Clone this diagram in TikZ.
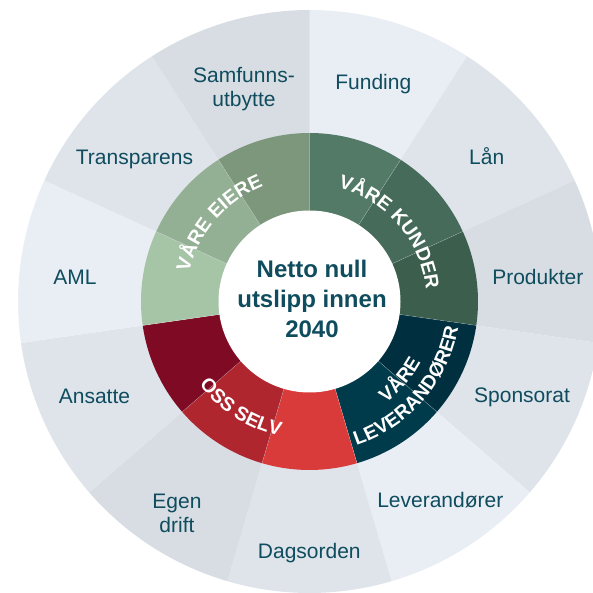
\documentclass[tikz,border=0pt]{standalone}
\usepackage{fontspec}
\setmainfont{Liberation Sans}
\usetikzlibrary{decorations.text}

\definecolor{tekst}{HTML}{0E4C5E}
\definecolor{ytreA}{HTML}{E9EEF5}
\definecolor{ytreB}{HTML}{DFE4EA}
\definecolor{ytreC}{HTML}{D8DDE3}
\definecolor{kunde1}{HTML}{527A66}
\definecolor{kunde2}{HTML}{466B5A}
\definecolor{kunde3}{HTML}{3B5E4D}
\definecolor{lev1}{HTML}{00303F}
\definecolor{lev2}{HTML}{003B4B}
\definecolor{selv1}{HTML}{D93B3B}
\definecolor{selv2}{HTML}{B0262F}
\definecolor{selv3}{HTML}{7E0A24}
\definecolor{eier1}{HTML}{A6C4A6}
\definecolor{eier2}{HTML}{94B094}
\definecolor{eier3}{HTML}{7C977C}

\tikzset{
  omraade/.style={font=\fontsize{21}{24}\selectfont, text=tekst, inner sep=0pt},
  ringtekst/.style={decorate, decoration={text along path, text align=center, text color=white}},
}
\newcommand{\ringfont}{\bfseries\fontsize{19.5}{19.5}\selectfont}

\begin{document}
\begin{tikzpicture}[x=1pt,y=1pt]
\useasboundingbox (-309.5,-291.5) rectangle (282.5,301.5);

% sektorer, ytre og indre ring
\foreach \i/\ytre/\indre in {0/ytreA/kunde1,1/ytreB/kunde2,2/ytreC/kunde3,3/ytreB/lev1,4/ytreA/lev2,5/ytreB/selv1,6/ytreC/selv2,7/ytreB/selv3,8/ytreA/eier1,9/ytreB/eier2,10/ytreC/eier3}{
        \pgfmathsetmacro{\fra}{90-\i*360/11}
        \pgfmathsetmacro{\til}{90-(\i+1)*360/11}
        \fill[\ytre] (0,0) -- (\fra:291.5) arc[start angle=\fra, end angle=\til, radius=291.5] -- cycle;
        \fill[\indre] (0,0) -- (\fra:168.5) arc[start angle=\fra, end angle=\til, radius=168.5] -- cycle;
        \draw[white, opacity=.2, line width=.6pt] (\fra:91) -- (\fra:168.5);
    }
\fill[white] (0,0) circle[radius=91];

% ytre tekster
\node[omraade, anchor=base] (funding) at (63.8,211.5) {Funding};
\node[omraade, anchor=base] (laan) at (177.2,136.5) {Lån};
\node[omraade, anchor=base] (produkter) at (228.3,16.5) {Produkter};
\node[omraade, anchor=base] (sponsorat) at (212.5,-101.5) {Sponsorat};
\node[omraade, anchor=base] (leverandorer) at (130.8,-205.5) {Leverandører};
\node[omraade, anchor=base] (dagsorden) at (-0.2,-257.2) {Dagsorden};
\node[omraade, align=center] (egendrift) at (-132.5,-212.1) {Egen\\drift};
\node[omraade, anchor=base] (ansatte) at (-215,-102.2) {Ansatte};
\node[omraade, anchor=base] (aml) at (-234.5,16.5) {AML};
\node[omraade, anchor=base] (transparens) at (-175,137.2) {Transparens};
\node[omraade, align=center] (samfunn) at (-65.5,212.9) {Samfunns-\\utbytte};

% midten
\node[font=\bfseries\fontsize{24}{30.3}\selectfont, text=tekst, align=center, inner sep=0pt] (maal) at (2.5,2.5) {Netto null\\utslipp innen\\2040};

% indre ring
\path[ringtekst, decoration={text={|\ringfont|VÅRE KUNDER}}] (90:117) arc[start angle=90, end angle=-8.18, radius=117];
\path[ringtekst, decoration={text={|\ringfont|VÅRE EIERE}}] (188.18:124) arc[start angle=188.18, end angle=90, radius=124];
\path[ringtekst, decoration={text={|\ringfont|OSS SELV}}] (-171.82:138) arc[start angle=-171.82, end angle=-73.64, radius=138];
\path[ringtekst, decoration={text={|\ringfont|LEVERANDØRER}}] (-73.64:151) arc[start angle=-73.64, end angle=-8.18, radius=151];
\path[ringtekst, decoration={text={|\ringfont|VÅRE}}] (-73.64:127) arc[start angle=-73.64, end angle=-8.18, radius=127];
\end{tikzpicture}
\end{document}
